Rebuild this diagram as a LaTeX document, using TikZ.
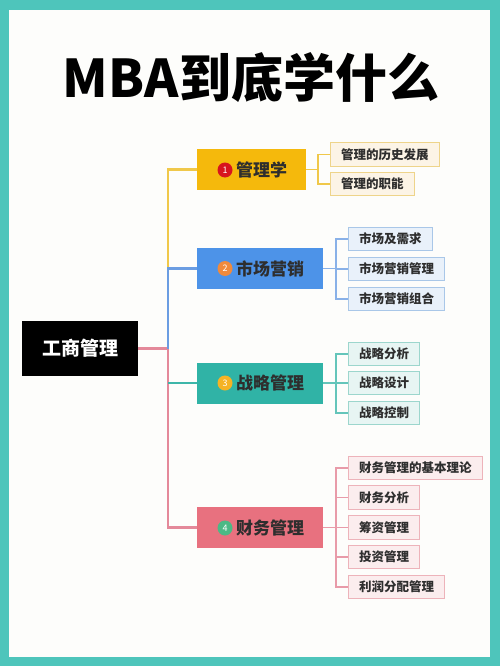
\documentclass[tikz,border=0pt]{standalone}
\usepackage{fontspec}
\setmainfont{Noto Sans CJK SC}
\definecolor{frame}{HTML}{4EC5BB}
\definecolor{paper}{HTML}{FDFDFB}
\definecolor{cy}{HTML}{F5B90C}
\definecolor{cb}{HTML}{4D93E8}
\definecolor{ct}{HTML}{30B3A6}
\definecolor{cp}{HTML}{E8717F}
\definecolor{ly}{HTML}{F0C84A}
\definecolor{lb}{HTML}{6B9DE2}
\definecolor{lt}{HTML}{3DB6A9}
\definecolor{lp}{HTML}{E4899A}
\definecolor{fy}{HTML}{FCF4E6}
\definecolor{dy}{HTML}{EED48A}
\definecolor{fb}{HTML}{E9F1FA}
\definecolor{db}{HTML}{A9C7E8}
\definecolor{ft}{HTML}{E7F5F3}
\definecolor{dt}{HTML}{9CD6CD}
\definecolor{fp}{HTML}{FBEDEE}
\definecolor{dp}{HTML}{EDB3BA}
\definecolor{txt}{HTML}{2E2E2E}
\definecolor{n1}{HTML}{D7141E}
\definecolor{n2}{HTML}{F08A3C}
\definecolor{n3}{HTML}{F5B324}
\definecolor{n4}{HTML}{4CB985}
\begin{document}
\begin{tikzpicture}[x=1pt,y=-1pt,
  branchbox/.style={rectangle,minimum height=41pt,inner sep=0pt},
  branchtext/.style={anchor=west,inner sep=0pt,text=txt,font=\fontsize{17}{17}\selectfont\bfseries},
  numdot/.style={circle,minimum size=15pt,inner sep=0pt,text=white,font=\fontsize{9}{9}\selectfont},
  leaf/.style={rectangle,anchor=west,minimum height=23.5pt,inner xsep=10.5pt,inner ysep=0pt,line width=1.1pt,text=txt,font=\fontsize{12.5}{12.5}\selectfont\bfseries},
  trunk/.style={line width=2.4pt},
  twig/.style={line width=1.1pt}]
\useasboundingbox (0,0) rectangle (500,666);
\fill[frame] (0,0) rectangle (500,666);
\fill[paper] (9,10) rectangle (490,657);
% title (soft shadow drawn as shapes-free blur substitute: none)
\node[font=\fontsize{52}{52}\selectfont\bfseries] (title) at (251,78) {MBA到底学什么};
% root
\node[fill=black,minimum width=116pt,minimum height=55pt,inner sep=0pt,text=white,font=\fontsize{19}{19}\selectfont\bfseries] (root) at (80,348.5) {工商管理};
% branch boxes
\node[branchbox,fill=cy,minimum width=109pt] (b1) at (251.5,169.5) {};
\node[branchbox,fill=cb,minimum width=126pt] (b2) at (260,268.5) {};
\node[branchbox,fill=ct,minimum width=126pt] (b3) at (260,383) {};
\node[branchbox,fill=cp,minimum width=126pt] (b4) at (260,527.5) {};
\node[numdot,fill=n1] (c1) at (225,170) {1};
\node[numdot,fill=n2] (c2) at (225,268.5) {2};
\node[numdot,fill=n3] (c3) at (225,383) {3};
\node[numdot,fill=n4] (c4) at (225,528) {4};
\node[branchtext] (t1) at (236,170) {管理学};
\node[branchtext] (t2) at (236,268.5) {市场营销};
\node[branchtext] (t3) at (236,383) {战略管理};
\node[branchtext] (t4) at (236,528) {财务管理};
% trunk
\coordinate (j) at (168,348.5);
\coordinate (jy) at (168,268.5);
\draw[trunk,lp] (root.east) -- (j) |- (b4.west);
\draw[trunk,lt] (168,383) -- (b3.west);
\draw[trunk,ly] (jy) |- (b1.west);
\draw[trunk,lb] (j) |- (b2.west);
% leaves branch 1
\node[leaf,fill=fy,draw=dy] (l11) at (330,154.5) {管理的历史发展};
\node[leaf,fill=fy,draw=dy] (l12) at (330,184) {管理的职能};
\coordinate (k1) at (318,169.5);
\draw[twig,ly] (b1.east) -- (k1);
\draw[twig,ly] (k1) |- (l11.west);
\draw[twig,ly] (k1) |- (l12.west);
% leaves branch 2
\node[leaf,fill=fb,draw=db] (l21) at (348,239) {市场及需求};
\node[leaf,fill=fb,draw=db] (l22) at (348,269) {市场营销管理};
\node[leaf,fill=fb,draw=db] (l23) at (348,299) {市场营销组合};
\coordinate (k2) at (336,268.5);
\draw[twig,lb!80] (b2.east) -- (k2);
\draw[twig,lb!80] (k2) |- (l21.west);
\draw[twig,lb!80] (k2) |- (l22.west);
\draw[twig,lb!80] (k2) |- (l23.west);
% leaves branch 3
\node[leaf,fill=ft,draw=dt] (l31) at (348,354) {战略分析};
\node[leaf,fill=ft,draw=dt] (l32) at (348,383) {战略设计};
\node[leaf,fill=ft,draw=dt] (l33) at (348,413) {战略控制};
\coordinate (k3) at (336,383);
\draw[twig,lt!80] (b3.east) -- (k3);
\draw[twig,lt!80] (k3) |- (l31.west);
\draw[twig,lt!80] (k3) |- (l32.west);
\draw[twig,lt!80] (k3) |- (l33.west);
% leaves branch 4
\node[leaf,fill=fp,draw=dp] (l41) at (348,468) {财务管理的基本理论};
\node[leaf,fill=fp,draw=dp] (l42) at (348,497.5) {财务分析};
\node[leaf,fill=fp,draw=dp] (l43) at (348,527.5) {筹资管理};
\node[leaf,fill=fp,draw=dp] (l44) at (348,557) {投资管理};
\node[leaf,fill=fp,draw=dp] (l45) at (348,587) {利润分配管理};
\coordinate (k4) at (336,527.5);
\draw[twig,lp!85] (b4.east) -- (k4);
\draw[twig,lp!85] (k4) |- (l41.west);
\draw[twig,lp!85] (k4) |- (l42.west);
\draw[twig,lp!85] (k4) |- (l43.west);
\draw[twig,lp!85] (k4) |- (l44.west);
\draw[twig,lp!85] (k4) |- (l45.west);
\end{tikzpicture}
\end{document}
